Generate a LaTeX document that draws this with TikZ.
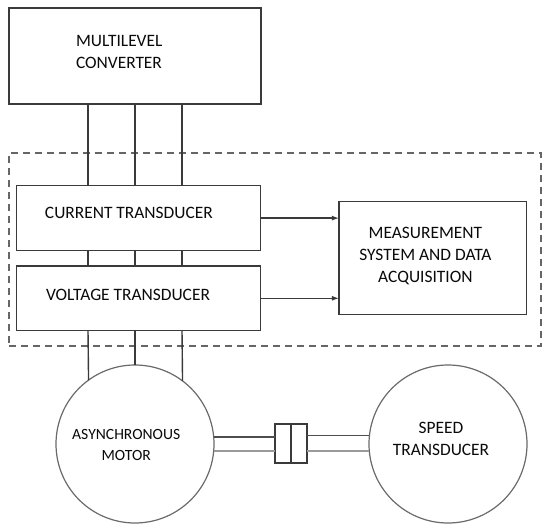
\documentclass[tikz,border=0pt]{standalone}
\usepackage{fontspec}
\setmainfont{Carlito}
\usetikzlibrary{arrows.meta}
\definecolor{boxc}{HTML}{3A3A3A}
\definecolor{circc}{HTML}{6A6A6A}
\definecolor{dashc}{HTML}{666666}
\definecolor{txtc}{HTML}{0A0A0A}
\definecolor{shaftlo}{HTML}{9A9A9A}
\begin{document}
\begin{tikzpicture}[x=1pt,y=-1pt,
  box/.style={draw=boxc, line width=1.5pt, rectangle, inner sep=0pt, outer sep=0pt},
  circ/.style={draw=circc, line width=1.2pt, circle, minimum size=158pt, inner sep=0pt, outer sep=0pt},
  wire/.style={draw=boxc, line width=1.4pt},
  lbl/.style={text=txtc, inner sep=0pt, outer sep=0pt, font=\fontsize{17.4}{22}\selectfont},
  arr/.style={draw=boxc, line width=1.3pt, -{Latex[length=7pt,width=5pt]}}]
\useasboundingbox (0,0) rectangle (550,531);
\fill[white] (0,0) rectangle (550,531);

% dashed enclosure
\node[draw=dashc, line width=1.5pt, dash pattern=on 7pt off 5pt, rectangle, inner sep=0pt, outer sep=0pt,
      minimum width=532pt, minimum height=193pt] (encl) at (275,249.5) {};

% boxes
\node[box, minimum width=252pt, minimum height=96pt] (conv) at (135,56.2) {};
\node[box, minimum width=244pt, minimum height=64.8pt] (cur) at (138.7,218.1) {};
\node[box, minimum width=244pt, minimum height=64.7pt] (volt) at (138.7,298.3) {};
\node[box, minimum width=187.7pt, minimum height=112.6pt] (meas) at (432.8,258) {};

% circles
\node[circ] (motor) at (135,444) {};
\node[circ] (speed) at (448,444) {};

% coupling
\node[draw=boxc, line width=1.2pt, rectangle, inner sep=0pt, outer sep=0pt,
      minimum width=32pt, minimum height=39pt] (coup) at (291,443.5) {};

% labels
\node[lbl, anchor=north west, align=left] (tconv) at (76,35.8) {MULTILEVEL\\CONVERTER};
\node[lbl, anchor=north west] (tcur) at (45,207.1) {CURRENT TRANSDUCER};
\node[lbl, anchor=north west] (tvolt) at (46,289.1) {VOLTAGE TRANSDUCER};
\node[lbl, anchor=north, align=center] (tmeas) at (425.4,227.1) {MEASUREMENT\\SYSTEM AND DATA\\ACQUISITION};
\node[lbl, anchor=north, align=center, font=\fontsize{15.6}{20.7}\selectfont] (tmotor) at (126.2,429.4) {ASYNCHRONOUS\\MOTOR};
\node[lbl, anchor=north, align=center] (tspeed) at (441,421.8) {SPEED\\TRANSDUCER};

% three-phase wires
\coordinate (l1) at (88,0);
\coordinate (l2) at (135,0);
\coordinate (l3) at (182,0);
\foreach \c in {l1,l2,l3} {
  \draw[wire] (conv.south -| \c) -- (cur.north -| \c);
  \draw[wire] (cur.south -| \c) -- (volt.north -| \c);
}
\draw[wire] (volt.south -| l1) -- (motor.126.5);
\draw[wire] (volt.south -| l2) -- (motor.north);
\draw[wire] (volt.south -| l3) -- (motor.53.5);

% signal arrows
\draw[arr] (cur.east) -- (cur.east -| meas.west);
\draw[arr] (volt.east) -- (volt.east -| meas.west);

% shaft
\draw[draw=boxc!90, line width=1.3pt] (motor.5.8) -- (motor.5.8 -| coup.west);
\draw[draw=boxc!90, line width=1.3pt] (coup.east |- speed.174.2) -- (speed.174.2);
\draw[draw=shaftlo, line width=1.3pt] (motor.-5.6) -- (motor.-5.6 -| coup.west);
\draw[draw=shaftlo, line width=1.3pt] (coup.east |- speed.185.6) -- (speed.185.6);
\draw[draw=boxc, line width=1.2pt] (coup.north) -- (coup.south);
\end{tikzpicture}
\end{document}
